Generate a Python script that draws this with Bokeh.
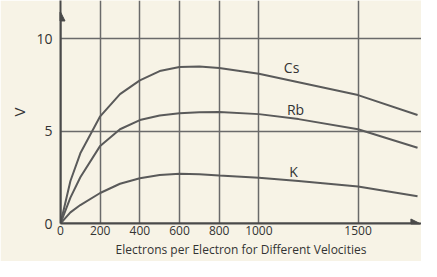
from bokeh.plotting import figure
from bokeh.models import FixedTicker, Range1d, Arrow, NormalHead, ColumnDataSource
from bokeh.core.properties import value
from bokeh.embed import file_html
from bokeh.resources import INLINE

# Data
x_vals = [0, 50, 100, 200, 300, 400, 500, 600, 700, 800, 1000, 1200, 1500, 1800]
cs_vals = [0, 2.3, 3.8, 5.8, 7.0, 7.75, 8.25, 8.47, 8.5, 8.42, 8.1, 7.65, 6.95, 5.87]
rb_vals = [0, 1.4, 2.5, 4.2, 5.1, 5.6, 5.85, 5.97, 6.02, 6.03, 5.92, 5.65, 5.1, 4.1]
k_vals = [0, 0.6, 1.0, 1.65, 2.15, 2.45, 2.62, 2.69, 2.67, 2.6, 2.47, 2.3, 2.0, 1.48]

x_ticks = [0, 200, 400, 600, 800, 1000, 1500]
y_ticks = [0, 5, 10]

label_names = ["Cs", "Rb", "K"]
label_x = [1165, 1185, 1175]
label_y = [8.42, 6.17, 2.8]

paper = "#f7f3e6"
ink = "#4a4a4a"
font = "Open Sans"

p = figure(width=421, height=261, output_backend="svg", toolbar_location=None,
           x_range=Range1d(0, 1820), y_range=Range1d(0, 12.07),
           min_border_left=60, min_border_right=0, min_border_top=0, min_border_bottom=38)
p.background_fill_color = paper
p.border_fill_color = paper
p.outline_line_color = None

p.xaxis.ticker = FixedTicker(ticks=x_ticks)
p.yaxis.ticker = FixedTicker(ticks=y_ticks)
for ax in (p.xaxis[0], p.yaxis[0]):
    ax.major_tick_line_color = None
    ax.minor_tick_line_color = None
    ax.major_tick_out = 0
    ax.major_tick_in = 0
    ax.minor_tick_out = 0
    ax.minor_tick_in = 0
    ax.axis_line_color = ink
    ax.axis_line_width = 2
    ax.major_label_text_color = "#333333"
    ax.major_label_text_font = font
    ax.axis_label_text_font = font
    ax.axis_label_text_color = "#333333"
    ax.axis_label_text_font_style = "normal"

p.xaxis.major_label_text_font_size = "12px"
p.xaxis.major_label_standoff = 2
p.xaxis.axis_label = "Electrons per Electron for Different Velocities"
p.xaxis.axis_label_text_font_size = "12px"
p.xaxis.axis_label_standoff = 3

p.yaxis.major_label_text_font_size = "14px"
p.yaxis.major_label_standoff = 8
p.yaxis.axis_label = "V"
p.yaxis.axis_label_text_font_size = "15px"
p.yaxis.axis_label_standoff = 4

p.xgrid.grid_line_color = "#6a6a6a"
p.xgrid.grid_line_width = 1.5
p.ygrid.grid_line_color = "#6a6a6a"
p.ygrid.grid_line_width = 1.5

src = ColumnDataSource(dict(x=x_vals, cs=cs_vals, rb=rb_vals, k=k_vals))
for col in ("cs", "rb", "k"):
    p.line("x", col, source=src, line_color="#5a5a5a", line_width=2)

lsrc = ColumnDataSource(dict(x=label_x, y=label_y, t=label_names))
p.text("x", "y", text="t", source=lsrc, text_font=value(font), text_font_size="14px",
       text_color="#333333", text_align="center", text_baseline="middle")

p.add_layout(Arrow(end=NormalHead(size=9, fill_color=ink, line_color=ink),
                   x_start=0, y_start=0, x_end=0, y_end=11.45,
                   line_color=ink, line_width=2))
p.add_layout(Arrow(end=NormalHead(size=9, fill_color=ink, line_color=ink),
                   x_start=0, y_start=0, x_end=1812, y_end=0,
                   line_color=ink, line_width=2))

open("out.html", "w").write(file_html(p, INLINE))
